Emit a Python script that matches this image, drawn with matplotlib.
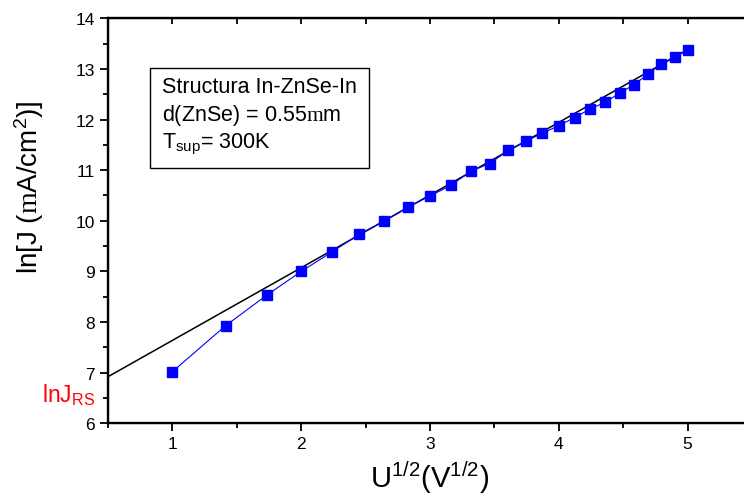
import matplotlib
matplotlib.use('Agg')
import matplotlib.pyplot as plt
from matplotlib.ticker import MultipleLocator

plt.rcParams['font.family'] = ['Liberation Sans', 'DejaVu Sans']
plt.rcParams['mathtext.fontset'] = 'custom'
plt.rcParams['mathtext.rm'] = 'Liberation Sans'
plt.rcParams['mathtext.it'] = 'Liberation Sans:italic'
plt.rcParams['mathtext.sf'] = 'Liberation Serif'

# measured points, x = U^(1/2)
u_sqrt = [1.0, 1.414, 1.732, 2.0, 2.236, 2.449, 2.646, 2.828, 3.0, 3.162,
          3.317, 3.464, 3.606, 3.742, 3.873, 4.0, 4.123, 4.243, 4.359, 4.472,
          4.583, 4.690, 4.796, 4.899, 5.0]
ln_j = [7.02, 7.93, 8.53, 9.0, 9.38, 9.73, 10.0, 10.27, 10.49, 10.70,
        10.98, 11.13, 11.39, 11.57, 11.73, 11.88, 12.04, 12.21, 12.34, 12.52,
        12.69, 12.89, 13.1, 13.24, 13.38]

# linear fit line
fit_x = [0.5, 5.0]
fit_y = [6.92, 13.38]

right_ticks = [7.66, 9.24, 10.82, 12.43]

fig = plt.figure(figsize=(7.44, 5.02), dpi=100)
ax = fig.add_axes([108/744, 1 - 424.3/502, 644/744, 405/502])

ax.plot(fit_x, fit_y, color='black', lw=1.1, zorder=2)
ax.plot(u_sqrt, ln_j, color='#0000ff', lw=0.8, marker='s', ms=6.5,
        markeredgecolor='#0000ff', zorder=3)

ax.set_xlim(0.5, 5.5)
ax.set_ylim(6, 14)
ax.xaxis.set_major_locator(MultipleLocator(1))
ax.xaxis.set_minor_locator(MultipleLocator(0.5))
ax.yaxis.set_major_locator(MultipleLocator(1))
ax.yaxis.set_minor_locator(MultipleLocator(0.5))
ax.tick_params(which='both', direction='out', width=1.3, labelsize=12.5)
ax.tick_params(which='major', length=6)
ax.tick_params(which='minor', length=3.5)
ax.tick_params(axis='x', which='both', top=False)
ax.tick_params(axis='y', which='both', right=False)
for s in ax.spines.values():
    s.set_linewidth(1.7)

# top ticks point inward
ax2 = ax.secondary_xaxis('top')
ax2.xaxis.set_major_locator(MultipleLocator(0.5))
ax2.tick_params(direction='in', length=4, width=1.3, labeltop=False)
ax2.set_xticklabels([])

ax3 = ax.twinx()
ax3.set_ylim(6, 14)
ax3.set_yticks(right_ticks)
ax3.set_yticklabels([])
ax3.tick_params(direction='in', length=6, width=1.3)

ax.set_ylabel(r'ln[J ($\mathsf{m}$A/cm$^2$)]', fontsize=20)
ax.yaxis.set_label_coords(-0.097, 0.585)
ax.set_xlabel(r'U$^{1/2}$(V$^{1/2}$)', fontsize=21, labelpad=5)

box_txt = ('Structura In-ZnSe-In\n'
           r'd(ZnSe) = 0.55$\mathsf{m}$m' + '\n'
           r'T$_{\mathrm{sup}}$= 300K')
ax.text(0.084, 0.857, box_txt, transform=ax.transAxes, fontsize=15.5,
        va='top', ha='left', linespacing=1.25,
        bbox=dict(boxstyle='square,pad=0.55', fc='white', ec='black', lw=1.0))

fig.text(42/744, 1 - 402/502, r'lnJ$_{\mathrm{RS}}$', color='red', fontsize=16.5,
         va='baseline', ha='left')

fig.savefig('out.png', dpi=100)
